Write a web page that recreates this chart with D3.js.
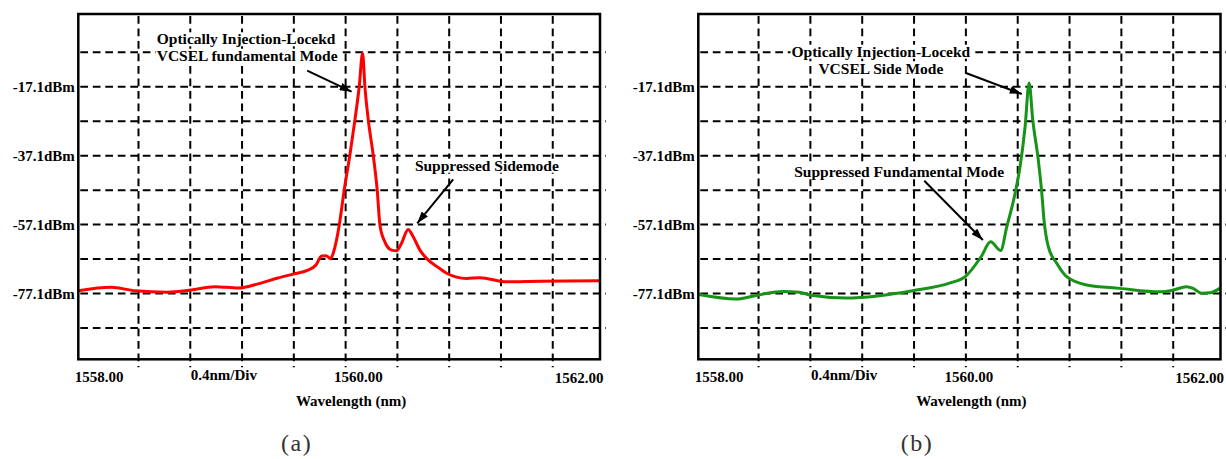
<!DOCTYPE html>
<html>
<head>
<meta charset="utf-8">
<script src="https://cdn.jsdelivr.net/npm/d3@7"></script>
<style>
  html, body { margin: 0; padding: 0; background: #fff; }
  svg { display: block; }
</style>
</head>
<body>
<svg id="chart" width="1226" height="459"></svg>
<script>
// ---- Spectrum (a): injection-locked fundamental mode ----
const wavelengthA = [1557.935, 1558.190, 1558.373, 1558.620, 1558.805, 1558.988, 1559.172, 1559.323,
  1559.477, 1559.601, 1559.703, 1559.771, 1559.815, 1559.848, 1559.884, 1559.904, 1559.951, 1559.989,
  1560.033, 1560.072, 1560.105, 1560.131, 1560.149, 1560.175, 1560.213, 1560.244, 1560.265, 1560.303,
  1560.355, 1560.394, 1560.432, 1560.483, 1560.522, 1560.574, 1560.625, 1560.707, 1560.780, 1560.934,
  1561.037, 1561.243, 1561.500, 1561.964];
const powerA = [-76.3, -75.3, -76.3, -76.7, -76.1, -75.1, -75.5, -74.3,
  -72.6, -71.4, -70.4, -68.8, -66.2, -66.1, -67.0, -65.4, -57.2, -47.1,
  -36.9, -26.7, -17.1, -7.4, -17.1, -26.7, -36.9, -47.1, -57.2, -62.1,
  -64.5, -64.7, -62.5, -58.5, -60.6, -64.5, -66.9, -69.3, -71.2, -72.7,
  -72.5, -73.7, -73.5, -73.4];

// ---- Spectrum (b): injection-locked side mode ----
const wavelengthB = [1557.940, 1558.228, 1558.398, 1558.592, 1558.713, 1558.804, 1559.076, 1559.318,
  1559.590, 1559.879, 1559.995, 1560.118, 1560.191, 1560.268, 1560.316, 1560.380, 1560.418, 1560.457,
  1560.488, 1560.516, 1560.559, 1560.586, 1560.603, 1560.636, 1560.701, 1560.778, 1560.932, 1561.189,
  1561.497, 1561.599, 1561.703, 1561.754, 1561.818, 1561.882, 1561.959];
const powerB = [-77.4, -78.7, -77.5, -76.5, -76.7, -77.6, -78.4, -77.8,
  -76.3, -74.0, -72.2, -66.4, -62.1, -64.6, -57.7, -48.0, -40.3, -28.7,
  -16.0, -26.7, -38.4, -48.0, -55.8, -63.5, -68.3, -72.2, -74.6, -75.6,
  -76.6, -76.1, -75.1, -75.6, -77.0, -76.9, -75.6];

// ---- Axis text ----
const yTickValues = [-17.1, -37.1, -57.1, -77.1];
const yTickLabels = ["-17.1dBm", "-37.1dBm", "-57.1dBm", "-77.1dBm"];
const xTickLabels = ["1558.00", "1560.00", "1562.00"];
const divisionLabel = "0.4nm/Div";
const divisionStart = 1558.8;
const xAxisTitle = "Wavelength (nm)";
const captions = ["(a)", "(b)"];

// ---- Instrument graticule ----
const gridWavelengths = [1558.4, 1558.8, 1559.2, 1559.6, 1560.0, 1560.4, 1560.8, 1561.2, 1561.6];
const gridPowers = [-7.1, -17.1, -27.1, -37.1, -47.1, -57.1, -67.1, -77.1, -87.1];
const wavelengthSpan = [1557.935, 1561.965];
const powerSpan = [-96.18, 4.01];

// ---- Annotation text (positions in nm / dBm) ----
const notesA = [
  { lines: ["Optically Injection-Locekd", "VCSEL fundamental Mode"], at: [1558.541, -4.78], anchor: "start",
    arrow: [[1559.703, -12.44], [1560.046, -18.53]] },
  { lines: ["Suppressed Sidemode"], at: [1560.535, -41.46], anchor: "start",
    arrow: [[1560.831, -43.95], [1560.553, -56.72]] }
];
const notesB = [
  { lines: ["Optically Injection-Locekd", "VCSEL Side Mode"], at: [1559.344, -8.38], anchor: "middle",
    arrow: [[1559.995, -13.02], [1560.431, -19.20]] },
  { lines: ["Suppressed Fundamental Mode"], at: [1559.485, -43.37], anchor: "middle",
    arrow: [[1559.679, -44.36], [1560.131, -61.57]] }
];

const panels = [
  { left: 78.3, right: 600, color: "#ff0000", wl: wavelengthA, pw: powerA, notes: notesA, caption: captions[0], midDx: 12.8 },
  { left: 698.3, right: 1220.5, color: "#179317", wl: wavelengthB, pw: powerB, notes: notesB, caption: captions[1], midDx: 3.1 }
];

const plotTop = 14, plotBottom = 359.3;
const boldFont = "'Liberation Serif', 'Times New Roman', serif";

const svg = d3.select("#chart");
svg.append("rect").attr("width", 1226).attr("height", 459).attr("fill", "#fff");

const defs = svg.append("defs");
defs.append("marker")
  .attr("id", "arrowhead")
  .attr("viewBox", "0 0 12 8")
  .attr("refX", 12).attr("refY", 4)
  .attr("markerWidth", 12).attr("markerHeight", 8)
  .attr("markerUnits", "userSpaceOnUse")
  .attr("orient", "auto")
  .append("path")
  .attr("d", "M0,0 L12,4 L0,8 Z")
  .attr("fill", "#000");

panels.forEach(p => {
  const x = d3.scaleLinear().domain(wavelengthSpan).range([p.left, p.right]);
  const y = d3.scaleLinear().domain(powerSpan).range([plotBottom, plotTop]);
  const g = svg.append("g");

  // dashed graticule
  g.append("g").selectAll("line").data(gridPowers).join("line")
    .attr("x1", p.left + 2).attr("x2", p.right + 6)
    .attr("y1", d => y(d)).attr("y2", d => y(d))
    .attr("stroke", "#000").attr("stroke-width", 2)
    .attr("stroke-dasharray", "7.7,4.8");
  g.append("g").selectAll("line").data(gridWavelengths).join("line")
    .attr("x1", d => x(d)).attr("x2", d => x(d))
    .attr("y1", plotTop + 2).attr("y2", plotBottom + 8)
    .attr("stroke", "#000").attr("stroke-width", 2)
    .attr("stroke-dasharray", "7.7,4.8");

  // trace
  const pts = p.wl.map((w, i) => [w, p.pw[i]]);
  g.append("path")
    .datum(pts)
    .attr("d", d3.line().x(d => x(d[0])).y(d => y(d[1])).curve(d3.curveMonotoneX))
    .attr("fill", "none")
    .attr("stroke", p.color)
    .attr("stroke-width", 3)
    .attr("stroke-linejoin", "round");

  // frame
  g.append("rect")
    .attr("x", p.left).attr("y", plotTop)
    .attr("width", p.right - p.left).attr("height", plotBottom - plotTop)
    .attr("fill", "none").attr("stroke", "#000").attr("stroke-width", 2.5);

  // power labels
  g.append("g").selectAll("text").data(yTickValues).join("text")
    .attr("x", p.left - 3.5)
    .attr("y", d => y(d) + 5)
    .attr("text-anchor", "end")
    .attr("font-family", boldFont).attr("font-weight", "bold").attr("font-size", 15)
    .text((d, i) => yTickLabels[i]);

  // wavelength labels
  const xl = g.append("g")
    .attr("font-family", boldFont).attr("font-weight", "bold").attr("font-size", 15);
  xl.append("text").attr("x", x(+xTickLabels[0]) - 12).attr("y", 382)
    .attr("text-anchor", "start").text(xTickLabels[0]);
  xl.append("text").attr("x", x(+xTickLabels[1]) + p.midDx).attr("y", 381.5)
    .attr("text-anchor", "middle").text(xTickLabels[1]);
  xl.append("text").attr("x", x(+xTickLabels[2]) - 1).attr("y", 382.5)
    .attr("text-anchor", "end").text(xTickLabels[2]);
  xl.append("text").attr("x", x(divisionStart) + 0.5).attr("y", 380)
    .attr("text-anchor", "start").text(divisionLabel);
  xl.append("text").attr("x", (p.left + p.right) / 2 + 12).attr("y", 405.5)
    .attr("text-anchor", "middle").text(xAxisTitle);

  // annotations, each line knocked out of the graticule by a white box
  p.notes.forEach(n => {
    n.lines.forEach((ln, i) => {
      const holder = g.append("g");
      const bg = holder.append("rect").attr("fill", "#fff");
      const t = holder.append("text")
        .attr("font-family", boldFont).attr("font-weight", "bold").attr("font-size", 15.5)
        .attr("text-anchor", n.anchor)
        .attr("x", x(n.at[0])).attr("y", y(n.at[1]) + i * 17.1)
        .text(ln);
      const bb = t.node().getBBox();
      bg.attr("x", bb.x - 1).attr("y", bb.y + 2).attr("width", bb.width + 2).attr("height", bb.height - 3);
    });
    g.append("line")
      .attr("x1", x(n.arrow[0][0])).attr("y1", y(n.arrow[0][1]))
      .attr("x2", x(n.arrow[1][0])).attr("y2", y(n.arrow[1][1]))
      .attr("stroke", "#000").attr("stroke-width", 2)
      .attr("marker-end", "url(#arrowhead)");
  });

  // sub-figure caption
  svg.append("text")
    .attr("x", (p.left + p.right) / 2 - 42.5).attr("y", 451)
    .attr("text-anchor", "middle")
    .attr("font-family", "'Liberation Serif', serif").attr("font-size", 24)
    .attr("letter-spacing", 1.5)
    .attr("fill", "#333")
    .text(p.caption);
});
</script>
</body>
</html>
